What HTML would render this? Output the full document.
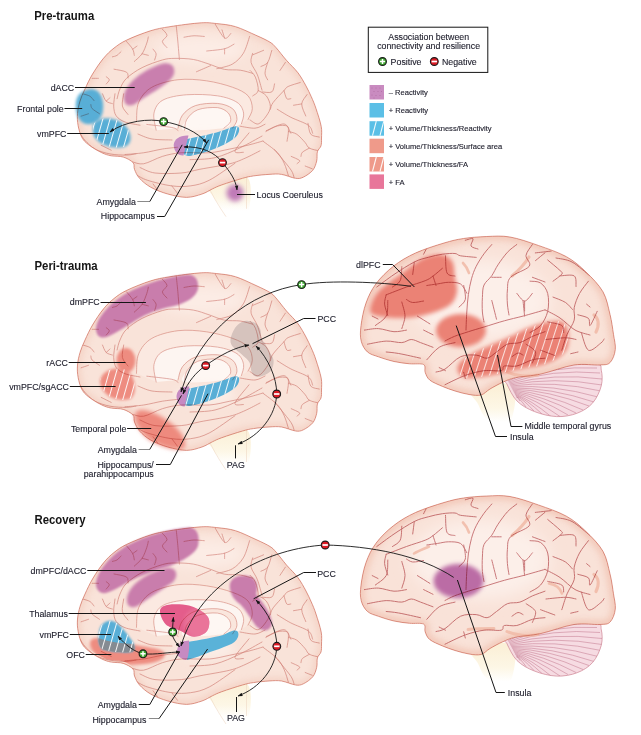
<!DOCTYPE html><html><head><meta charset="utf-8"><style>
html,body{margin:0;padding:0;background:#fff;width:641px;height:735px;overflow:hidden}
svg{display:block;font-family:"Liberation Sans",sans-serif}
</style></head><body>
<svg width="641" height="735" viewBox="0 0 641 735">
<defs>
<linearGradient id="bsg" x1="0" y1="432" x2="0" y2="464" gradientUnits="userSpaceOnUse">
<stop offset="0" stop-color="#fbf0d8"/><stop offset="0.6" stop-color="#fdf7e6"/><stop offset="1" stop-color="#ffffff"/></linearGradient>
<linearGradient id="bsg2" x1="0" y1="388" x2="0" y2="422" gradientUnits="userSpaceOnUse">
<stop offset="0" stop-color="#fbf0d8"/><stop offset="0.6" stop-color="#fdf7e6"/><stop offset="1" stop-color="#ffffff"/></linearGradient>

<filter id="bl3" x="-50%" y="-50%" width="200%" height="200%"><feGaussianBlur stdDeviation="0.3"/></filter>
<filter id="bl4" x="-50%" y="-50%" width="200%" height="200%"><feGaussianBlur stdDeviation="0.4"/></filter>
<filter id="bl5" x="-50%" y="-50%" width="200%" height="200%"><feGaussianBlur stdDeviation="0.5"/></filter>
<filter id="bl10" x="-50%" y="-50%" width="200%" height="200%"><feGaussianBlur stdDeviation="1.0"/></filter>
<filter id="bl12" x="-50%" y="-50%" width="200%" height="200%"><feGaussianBlur stdDeviation="1.2"/></filter>
<filter id="bl13" x="-50%" y="-50%" width="200%" height="200%"><feGaussianBlur stdDeviation="1.3"/></filter>
<filter id="bl15" x="-50%" y="-50%" width="200%" height="200%"><feGaussianBlur stdDeviation="1.5"/></filter>
<filter id="bl18" x="-50%" y="-50%" width="200%" height="200%"><feGaussianBlur stdDeviation="1.8"/></filter>
<filter id="bl20" x="-50%" y="-50%" width="200%" height="200%"><feGaussianBlur stdDeviation="2.0"/></filter>
<filter id="bl22" x="-50%" y="-50%" width="200%" height="200%"><feGaussianBlur stdDeviation="2.2"/></filter>
<filter id="bl25" x="-50%" y="-50%" width="200%" height="200%"><feGaussianBlur stdDeviation="2.5"/></filter>
<filter id="bl30" x="-50%" y="-50%" width="200%" height="200%"><feGaussianBlur stdDeviation="3.0"/></filter>
<filter id="bl40" x="-50%" y="-50%" width="200%" height="200%"><feGaussianBlur stdDeviation="4.0"/></filter>
<filter id="bl60" x="-50%" y="-50%" width="200%" height="200%"><feGaussianBlur stdDeviation="6.0"/></filter>
<filter id="bl80" x="-50%" y="-50%" width="200%" height="200%"><feGaussianBlur stdDeviation="8.0"/></filter>
<clipPath id="medclip"><path d="M80.0,352.5 C81.2,348.3 82.9,344.6 85.0,340.0 C87.1,335.4 89.4,330.2 92.5,325.0 C95.6,319.8 99.8,313.4 103.4,309.0 C107.0,304.6 110.1,301.6 114.0,298.5 C117.9,295.4 120.8,293.2 126.8,290.3 C132.8,287.4 143.0,283.3 150.2,281.0 C157.4,278.7 161.5,278.1 170.0,276.7 C178.5,275.3 193.4,273.3 201.2,272.8 C209.0,272.3 211.1,273.0 216.8,273.6 C222.5,274.2 229.0,274.7 235.5,276.7 C242.0,278.7 250.2,282.9 256.0,285.5 C261.8,288.1 266.7,290.4 270.0,292.5 C273.3,294.6 273.2,294.9 276.0,298.0 C278.8,301.1 282.8,306.7 286.5,311.0 C290.2,315.3 294.8,319.4 298.0,323.7 C301.2,328.0 303.8,332.9 306.0,337.0 C308.2,341.1 309.6,344.2 311.3,348.0 C313.0,351.8 314.4,355.0 316.0,360.0 C317.6,365.0 320.3,373.0 321.2,378.0 C322.1,383.0 321.5,386.7 321.5,390.0 C321.5,393.3 321.7,395.7 321.0,398.0 C320.3,400.3 318.1,401.4 317.4,404.0 C316.7,406.6 317.5,410.3 316.7,413.4 C315.9,416.5 315.0,420.1 312.8,422.8 C310.6,425.5 306.3,428.4 303.4,429.8 C300.5,431.2 299.1,431.5 295.5,431.0 C291.9,430.5 285.9,427.7 281.5,427.0 C277.1,426.3 273.7,426.7 269.0,427.0 C264.3,427.3 257.8,427.9 253.4,428.6 C249.0,429.3 247.8,429.5 242.5,431.0 C237.2,432.5 226.8,435.9 221.8,437.7 C216.8,439.5 215.7,440.2 212.4,441.8 C209.1,443.4 206.3,445.6 202.0,447.0 C197.7,448.4 192.3,450.4 186.6,450.4 C180.9,450.4 173.8,448.7 167.8,447.0 C161.8,445.3 155.3,442.7 150.6,440.0 C145.9,437.3 142.2,434.0 139.5,431.0 C136.8,428.0 135.6,424.7 134.5,422.0 C133.4,419.3 134.9,417.1 133.0,415.0 C131.1,412.9 126.8,410.5 123.2,409.4 C119.6,408.2 114.8,408.8 111.2,408.1 C107.6,407.4 105.1,406.6 101.8,405.0 C98.5,403.4 94.4,401.2 91.2,398.8 C88.0,396.4 84.7,394.2 82.5,390.6 C80.3,387.0 78.9,381.7 78.1,377.4 C77.3,373.1 77.2,369.1 77.5,365.0 C77.8,360.9 78.8,356.7 80.0,352.5 Z"/></clipPath>
<clipPath id="latclip"><path d="M444.0,243.0 C436.0,245.4 423.9,249.2 415.5,253.0 C407.1,256.8 400.3,260.9 393.7,266.0 C387.1,271.1 380.6,277.5 376.0,283.7 C371.4,289.9 368.5,296.0 366.0,303.0 C363.5,310.0 361.8,319.2 361.0,325.6 C360.2,332.0 360.1,336.8 361.2,341.2 C362.3,345.6 364.6,349.4 367.5,352.0 C370.4,354.6 374.0,355.2 378.4,356.8 C382.8,358.4 388.8,360.3 394.0,361.5 C399.2,362.7 404.7,363.3 409.6,363.8 C414.5,364.3 421.0,363.2 423.6,364.6 C426.2,366.0 424.1,369.8 425.2,372.4 C426.2,375.0 427.0,377.9 429.9,380.2 C432.8,382.5 438.2,384.6 442.4,386.4 C446.6,388.2 450.6,389.6 455.0,391.0 C459.4,392.4 464.7,393.8 469.0,394.5 C473.3,395.2 477.5,395.9 481.0,395.0 C484.5,394.1 486.4,391.1 490.0,389.0 C493.6,386.9 498.2,384.3 502.5,382.4 C506.8,380.5 509.2,379.1 515.6,377.7 C522.0,376.3 531.3,376.1 541.0,374.0 C550.7,371.9 564.2,366.5 574.0,365.0 C583.8,363.5 594.0,365.4 600.0,365.0 C606.0,364.6 607.7,365.0 610.2,362.4 C612.8,359.8 614.8,354.3 615.3,349.6 C615.8,344.9 614.4,340.2 613.5,334.3 C612.6,328.4 611.8,321.4 610.0,314.3 C608.2,307.2 607.0,298.9 603.0,291.8 C599.0,284.8 592.1,277.9 586.0,272.0 C579.9,266.1 574.4,261.1 566.4,256.7 C558.4,252.3 547.7,248.7 538.3,245.4 C528.9,242.1 518.6,238.5 510.0,237.0 C501.4,235.5 494.6,236.2 486.8,236.5 C479.0,236.8 470.5,237.4 463.4,238.5 C456.3,239.6 452.0,240.6 444.0,243.0 Z"/></clipPath>
<clipPath id="cerclip"><path d="M505.0,376.0 C496.1,379.0 504.9,379.8 506.9,384.0 C508.9,388.2 512.4,396.4 517.0,401.0 C521.6,405.6 527.7,408.9 534.3,411.5 C540.9,414.1 549.5,416.3 556.6,416.6 C563.8,416.9 571.2,415.5 577.2,413.2 C583.2,410.9 588.7,407.5 592.7,402.9 C596.7,398.3 599.9,391.1 601.3,385.7 C602.7,380.3 602.2,373.9 601.3,370.3 C600.4,366.7 602.9,364.7 596.0,364.0 C589.1,363.3 575.2,364.0 560.0,366.0 C544.8,368.0 513.9,373.0 505.0,376.0 Z"/></clipPath>
<pattern id="stripe" width="6.9" height="7" patternUnits="userSpaceOnUse" patternTransform="rotate(16)">
<rect x="0" width="1.0" height="7" fill="#fff" opacity="0.9"/></pattern>
<marker id="ah" viewBox="0 0 10 10" refX="9" refY="5" markerWidth="5.5" markerHeight="5.5" orient="auto-start-reverse">
<path d="M0,1.5 L10,5 L0,8.5 z" fill="#151515"/></marker>
<g id="medbase"><path d="M207.0,436.0 C201.2,439.0 210.0,444.3 212.0,448.0 C214.0,451.7 216.7,454.7 219.0,458.0 C221.3,461.3 221.3,466.3 226.0,468.0 C230.7,469.7 243.5,474.3 247.0,468.0 C250.5,461.7 253.7,435.3 247.0,430.0 C240.3,424.7 212.8,433.0 207.0,436.0 Z" fill="url(#bsg)"/>
<path d="M207,436 C212,448 218,458 226,470" fill="none" stroke="#efd9c4" stroke-width="0.6"/>
<path d="M246.5,430 L246.5,462" fill="none" stroke="#efd9c4" stroke-width="0.6"/>
<path d="M80.0,352.5 C81.2,348.3 82.9,344.6 85.0,340.0 C87.1,335.4 89.4,330.2 92.5,325.0 C95.6,319.8 99.8,313.4 103.4,309.0 C107.0,304.6 110.1,301.6 114.0,298.5 C117.9,295.4 120.8,293.2 126.8,290.3 C132.8,287.4 143.0,283.3 150.2,281.0 C157.4,278.7 161.5,278.1 170.0,276.7 C178.5,275.3 193.4,273.3 201.2,272.8 C209.0,272.3 211.1,273.0 216.8,273.6 C222.5,274.2 229.0,274.7 235.5,276.7 C242.0,278.7 250.2,282.9 256.0,285.5 C261.8,288.1 266.7,290.4 270.0,292.5 C273.3,294.6 273.2,294.9 276.0,298.0 C278.8,301.1 282.8,306.7 286.5,311.0 C290.2,315.3 294.8,319.4 298.0,323.7 C301.2,328.0 303.8,332.9 306.0,337.0 C308.2,341.1 309.6,344.2 311.3,348.0 C313.0,351.8 314.4,355.0 316.0,360.0 C317.6,365.0 320.3,373.0 321.2,378.0 C322.1,383.0 321.5,386.7 321.5,390.0 C321.5,393.3 321.7,395.7 321.0,398.0 C320.3,400.3 318.1,401.4 317.4,404.0 C316.7,406.6 317.5,410.3 316.7,413.4 C315.9,416.5 315.0,420.1 312.8,422.8 C310.6,425.5 306.3,428.4 303.4,429.8 C300.5,431.2 299.1,431.5 295.5,431.0 C291.9,430.5 285.9,427.7 281.5,427.0 C277.1,426.3 273.7,426.7 269.0,427.0 C264.3,427.3 257.8,427.9 253.4,428.6 C249.0,429.3 247.8,429.5 242.5,431.0 C237.2,432.5 226.8,435.9 221.8,437.7 C216.8,439.5 215.7,440.2 212.4,441.8 C209.1,443.4 206.3,445.6 202.0,447.0 C197.7,448.4 192.3,450.4 186.6,450.4 C180.9,450.4 173.8,448.7 167.8,447.0 C161.8,445.3 155.3,442.7 150.6,440.0 C145.9,437.3 142.2,434.0 139.5,431.0 C136.8,428.0 135.6,424.7 134.5,422.0 C133.4,419.3 134.9,417.1 133.0,415.0 C131.1,412.9 126.8,410.5 123.2,409.4 C119.6,408.2 114.8,408.8 111.2,408.1 C107.6,407.4 105.1,406.6 101.8,405.0 C98.5,403.4 94.4,401.2 91.2,398.8 C88.0,396.4 84.7,394.2 82.5,390.6 C80.3,387.0 78.9,381.7 78.1,377.4 C77.3,373.1 77.2,369.1 77.5,365.0 C77.8,360.9 78.8,356.7 80.0,352.5 Z" fill="#f9e3d9"/>
<g clip-path="url(#medclip)"><path d="M80.0,352.5 C81.2,348.3 82.9,344.6 85.0,340.0 C87.1,335.4 89.4,330.2 92.5,325.0 C95.6,319.8 99.8,313.4 103.4,309.0 C107.0,304.6 110.1,301.6 114.0,298.5 C117.9,295.4 120.8,293.2 126.8,290.3 C132.8,287.4 143.0,283.3 150.2,281.0 C157.4,278.7 161.5,278.1 170.0,276.7 C178.5,275.3 193.4,273.3 201.2,272.8 C209.0,272.3 211.1,273.0 216.8,273.6 C222.5,274.2 229.0,274.7 235.5,276.7 C242.0,278.7 250.2,282.9 256.0,285.5 C261.8,288.1 266.7,290.4 270.0,292.5 C273.3,294.6 273.2,294.9 276.0,298.0 C278.8,301.1 282.8,306.7 286.5,311.0 C290.2,315.3 294.8,319.4 298.0,323.7 C301.2,328.0 303.8,332.9 306.0,337.0 C308.2,341.1 309.6,344.2 311.3,348.0 C313.0,351.8 314.4,355.0 316.0,360.0 C317.6,365.0 320.3,373.0 321.2,378.0 C322.1,383.0 321.5,386.7 321.5,390.0 C321.5,393.3 321.7,395.7 321.0,398.0 C320.3,400.3 318.1,401.4 317.4,404.0 C316.7,406.6 317.5,410.3 316.7,413.4 C315.9,416.5 315.0,420.1 312.8,422.8 C310.6,425.5 306.3,428.4 303.4,429.8 C300.5,431.2 299.1,431.5 295.5,431.0 C291.9,430.5 285.9,427.7 281.5,427.0 C277.1,426.3 273.7,426.7 269.0,427.0 C264.3,427.3 257.8,427.9 253.4,428.6 C249.0,429.3 247.8,429.5 242.5,431.0 C237.2,432.5 226.8,435.9 221.8,437.7 C216.8,439.5 215.7,440.2 212.4,441.8 C209.1,443.4 206.3,445.6 202.0,447.0 C197.7,448.4 192.3,450.4 186.6,450.4 C180.9,450.4 173.8,448.7 167.8,447.0 C161.8,445.3 155.3,442.7 150.6,440.0 C145.9,437.3 142.2,434.0 139.5,431.0 C136.8,428.0 135.6,424.7 134.5,422.0 C133.4,419.3 134.9,417.1 133.0,415.0 C131.1,412.9 126.8,410.5 123.2,409.4 C119.6,408.2 114.8,408.8 111.2,408.1 C107.6,407.4 105.1,406.6 101.8,405.0 C98.5,403.4 94.4,401.2 91.2,398.8 C88.0,396.4 84.7,394.2 82.5,390.6 C80.3,387.0 78.9,381.7 78.1,377.4 C77.3,373.1 77.2,369.1 77.5,365.0 C77.8,360.9 78.8,356.7 80.0,352.5 Z" fill="none" stroke="#f1c5b5" stroke-width="6" filter="url(#bl30)" opacity="0.6"/>
<ellipse cx="200" cy="300" rx="45" ry="14" fill="#fcece5" filter="url(#bl60)"/>
<path d="M136.5,373.3 C136.9,370.0 136.1,359.5 138.7,353.7 C141.2,347.9 145.2,342.2 151.8,338.4 C158.4,334.6 168.9,331.8 178.0,330.7 C187.1,329.6 197.3,330.5 206.4,331.8 C215.5,333.1 225.7,335.9 232.6,338.4 C239.5,340.9 244.7,343.4 248.0,347.0 C251.3,350.6 252.3,356.2 252.3,360.2 C252.3,364.2 248.7,369.3 248.0,371.1 L241.4,375.5 C241.8,373.7 244.3,368.2 243.6,364.6 C242.9,361.0 241.4,356.6 237.0,353.7 C232.6,350.8 225.8,348.4 217.4,347.1 C209.0,345.8 195.9,345.3 186.8,346.0 C177.7,346.7 168.3,348.4 162.8,351.5 C157.3,354.6 155.1,359.5 154.0,364.6 C152.9,369.7 155.8,379.1 156.2,382.0 Z" fill="#fbe9e1"/>
<path d="M156.2,382.0 C155.8,379.1 152.9,369.7 154.0,364.6 C155.1,359.5 157.3,354.6 162.8,351.5 C168.3,348.4 177.7,346.7 186.8,346.0 C195.9,345.3 209.0,345.8 217.4,347.1 C225.8,348.4 232.6,350.8 237.0,353.7 C241.4,356.6 242.9,361.0 243.6,364.6 C244.3,368.2 241.8,373.7 241.4,375.5 L241.4,375.5 L232.6,379.9 C233.3,378.4 237.0,374.4 237.0,371.1 C237.0,367.8 235.9,362.9 232.6,360.2 C229.3,357.5 223.6,355.3 217.4,354.8 C211.2,354.3 201.3,355.0 195.5,357.0 C189.7,359.0 185.3,363.0 182.4,366.8 C179.5,370.6 178.7,377.8 178.0,380.0 Z" fill="#fdf5f1"/>
<path d="M178.0,380.0 C178.7,377.8 179.5,370.6 182.4,366.8 C185.3,363.0 189.7,359.0 195.5,357.0 C201.3,355.0 211.2,354.3 217.4,354.8 C223.6,355.3 229.3,357.5 232.6,360.2 C235.9,362.9 237.0,367.8 237.0,371.1 C237.0,374.4 233.3,378.4 232.6,379.9 L223.9,379.9 C225.0,378.8 229.8,375.9 230.5,373.3 C231.2,370.8 230.5,367.0 228.3,364.6 C226.1,362.2 222.5,359.7 217.4,359.1 C212.3,358.6 202.8,359.3 197.7,361.3 C192.6,363.3 189.0,367.7 186.8,371.1 C184.6,374.6 185.0,380.2 184.6,382.0 Z" fill="#fae6dd"/>
<path d="M184.6,382.0 C178.4,380.5 184.6,374.6 186.8,371.1 C189.0,367.7 192.6,363.3 197.7,361.3 C202.8,359.3 212.3,358.6 217.4,359.1 C222.5,359.7 226.1,362.2 228.3,364.6 C230.5,367.0 231.2,370.8 230.5,373.3 C229.8,375.9 231.6,378.4 223.9,379.9 C216.2,381.3 190.8,383.5 184.6,382.0 Z" fill="#fef7f3"/>
<ellipse cx="205" cy="395" rx="30" ry="10" fill="#fbede6" filter="url(#bl40)"/>
</g>
</g>
<g id="medlines">
<g clip-path="url(#medclip)">
<path d="M126.5,291.8 C127.5,293.1 131.4,297.2 132.7,299.6 C134.0,302.0 134.0,304.8 134.3,305.9" fill="none" stroke="#d8948f" stroke-width="0.7" stroke-linecap="round"/>
<path d="M132.7,299.6 C133.4,299.1 136.3,297.0 137.0,296.5" fill="none" stroke="#d8948f" stroke-width="0.7" stroke-linecap="round"/>
<path d="M148.3,287.2 C148.1,288.2 147.8,290.5 146.8,293.4 C145.8,296.2 144.2,301.2 142.1,304.3 C140.0,307.4 135.6,310.8 134.3,312.1" fill="none" stroke="#d8948f" stroke-width="0.7" stroke-linecap="round"/>
<path d="M142.1,304.3 C143.1,304.6 147.3,305.6 148.3,305.9" fill="none" stroke="#d8948f" stroke-width="0.7" stroke-linecap="round"/>
<path d="M162.4,279.4 C163.2,280.4 167.0,283.5 167.0,285.6 C167.0,287.7 162.4,289.7 162.4,291.8 C162.4,293.9 166.2,297.0 167.0,298.0" fill="none" stroke="#d8948f" stroke-width="0.7" stroke-linecap="round"/>
<path d="M153.0,299.6 C153.5,300.4 155.8,302.5 156.1,304.3 C156.4,306.1 154.8,309.6 154.6,310.6" fill="none" stroke="#d8948f" stroke-width="0.7" stroke-linecap="round"/>
<path d="M112.4,307.4 C113.2,307.1 115.7,306.8 117.1,305.9 C118.5,305.0 120.3,302.6 121.0,302.0" fill="none" stroke="#d8948f" stroke-width="0.7" stroke-linecap="round"/>
<path d="M114.0,320.0 C116.1,320.5 124.2,321.5 126.5,323.0 C128.8,324.5 127.8,328.0 128.0,329.0" fill="none" stroke="#d8948f" stroke-width="0.7" stroke-linecap="round"/>
<path d="M106.2,327.7 C106.7,328.2 109.3,329.6 109.3,330.8 C109.3,332.0 106.7,334.3 106.2,335.0" fill="none" stroke="#d8948f" stroke-width="0.7" stroke-linecap="round"/>
<path d="M92.2,329.3 C93.2,329.3 97.4,329.3 98.4,329.3" fill="none" stroke="#d8948f" stroke-width="0.7" stroke-linecap="round"/>
<path d="M103.1,309.0 C101.5,311.1 96.6,317.1 93.7,321.5 C90.8,325.9 87.2,333.2 85.9,335.5" fill="none" stroke="#d8948f" stroke-width="0.7" stroke-linecap="round"/>
<path d="M117.1,350.0 C117.6,348.3 118.4,343.4 120.0,340.0 C121.6,336.6 122.8,332.9 126.5,329.3 C130.2,325.7 136.1,321.5 142.1,318.4 C148.1,315.3 156.9,312.2 162.4,310.6 C167.9,309.0 169.8,309.1 175.0,309.0 C180.2,308.9 187.7,309.1 193.4,310.1 C199.1,311.1 203.8,313.1 209.0,314.8 C214.2,316.5 219.4,319.2 224.6,320.2 C229.8,321.2 235.5,320.3 240.2,321.0 C244.9,321.7 250.6,323.7 252.7,324.2" fill="none" stroke="#d8948f" stroke-width="0.7" stroke-linecap="round"/>
<path d="M115.0,345.0 C114.8,347.1 113.5,353.8 113.7,357.5 C113.9,361.2 114.3,364.8 116.2,367.5 C118.1,370.2 121.0,372.1 125.0,373.7 C129.0,375.3 137.5,376.4 140.0,377.0" fill="none" stroke="#d8948f" stroke-width="0.7" stroke-linecap="round"/>
<path d="M123.7,345.0 C123.5,347.1 121.7,354.0 122.4,357.5 C123.1,361.0 127.1,364.6 128.0,366.0" fill="none" stroke="#d8948f" stroke-width="0.7" stroke-linecap="round"/>
<path d="M102.5,345.0 C103.1,346.2 104.5,350.8 106.2,352.5 C107.9,354.2 111.4,354.6 112.4,355.0" fill="none" stroke="#d8948f" stroke-width="0.7" stroke-linecap="round"/>
<path d="M106.2,352.5 C106.8,351.9 109.4,349.6 110.0,349.0" fill="none" stroke="#d8948f" stroke-width="0.7" stroke-linecap="round"/>
<path d="M82.5,345.0 C83.8,345.4 88.1,346.3 90.0,347.5 C91.9,348.7 93.3,351.2 94.0,352.0" fill="none" stroke="#d8948f" stroke-width="0.7" stroke-linecap="round"/>
<path d="M90.9,356.0 C91.1,356.7 90.7,358.4 92.1,360.0 C93.5,361.6 98.3,364.4 99.5,365.3" fill="none" stroke="#d8948f" stroke-width="0.7" stroke-linecap="round"/>
<path d="M81.1,367.8 C82.3,367.4 87.3,365.7 88.5,365.3" fill="none" stroke="#d8948f" stroke-width="0.7" stroke-linecap="round"/>
<path d="M176.2,275.8 C176.5,278.4 177.3,285.7 177.8,291.4 C178.3,297.1 179.1,307.0 179.4,310.1" fill="none" stroke="#d8948f" stroke-width="0.7" stroke-linecap="round"/>
<path d="M215.2,274.2 C216.8,276.6 222.0,286.7 224.6,288.3 C227.2,289.9 229.8,284.4 230.8,283.6" fill="none" stroke="#d8948f" stroke-width="0.7" stroke-linecap="round"/>
<path d="M224.6,288.3 C224.2,286.9 222.4,281.4 222.0,280.0" fill="none" stroke="#d8948f" stroke-width="0.7" stroke-linecap="round"/>
<path d="M184.0,287.5 C185.7,287.2 190.6,286.1 194.0,286.0 C197.4,285.9 202.6,286.6 204.3,286.7" fill="none" stroke="#d8948f" stroke-width="0.7" stroke-linecap="round"/>
<path d="M206.7,301.5 C209.7,301.1 220.0,300.4 224.6,299.2 C229.2,298.0 232.4,295.3 234.0,294.5" fill="none" stroke="#d8948f" stroke-width="0.7" stroke-linecap="round"/>
<path d="M224.6,299.2 C224.6,300.1 224.6,303.6 224.6,304.5" fill="none" stroke="#d8948f" stroke-width="0.7" stroke-linecap="round"/>
<path d="M196.5,322.6 C198.8,321.6 208.2,317.4 210.6,316.4" fill="none" stroke="#d8948f" stroke-width="0.7" stroke-linecap="round"/>
<path d="M249.6,286.7 C248.6,289.6 246.2,299.2 243.3,303.9 C240.4,308.6 236.8,312.2 232.4,314.8 C228.0,317.4 219.4,318.7 216.8,319.5" fill="none" stroke="#d8948f" stroke-width="0.7" stroke-linecap="round"/>
<path d="M252.7,303.9 C252.4,305.4 250.3,309.6 251.1,313.2 C251.9,316.8 255.6,321.0 257.4,325.7 C259.2,330.4 261.2,338.7 262.0,341.3" fill="none" stroke="#d8948f" stroke-width="0.7" stroke-linecap="round"/>
<path d="M252.7,305.4 C254.5,304.6 261.8,301.6 263.6,300.8" fill="none" stroke="#d8948f" stroke-width="0.7" stroke-linecap="round"/>
<path d="M250.0,321.3 C250.9,322.4 254.0,324.7 255.4,328.1 C256.8,331.5 258.6,338.5 258.2,341.7 C257.8,344.9 253.6,346.2 252.7,347.1" fill="none" stroke="#d8948f" stroke-width="0.7" stroke-linecap="round"/>
<path d="M258.2,341.7 C259.6,342.6 264.3,344.4 266.3,347.1 C268.3,349.8 270.4,354.6 270.4,358.0 C270.4,361.4 268.3,364.7 266.3,367.6 C264.3,370.6 260.9,375.0 258.2,375.7 C255.5,376.4 251.4,372.3 250.0,371.6" fill="none" stroke="#d8948f" stroke-width="0.7" stroke-linecap="round"/>
<path d="M271.8,300.9 C271.1,302.9 269.5,310.4 267.7,313.1 C265.9,315.8 262.0,316.5 260.9,317.2" fill="none" stroke="#d8948f" stroke-width="0.7" stroke-linecap="round"/>
<path d="M267.7,313.1 C267.2,314.9 265.0,321.1 265.0,324.0 C265.0,326.9 267.2,329.7 267.7,330.8" fill="none" stroke="#d8948f" stroke-width="0.7" stroke-linecap="round"/>
<path d="M285.4,313.1 C284.5,314.5 280.9,319.9 280.0,321.3" fill="none" stroke="#d8948f" stroke-width="0.7" stroke-linecap="round"/>
<path d="M300.3,333.5 C298.3,334.2 290.8,336.2 288.1,337.6 C285.4,339.0 286.5,339.0 284.0,341.7 C281.5,344.4 275.4,350.7 273.1,353.9 C270.8,357.1 270.8,359.6 270.4,360.7" fill="none" stroke="#d8948f" stroke-width="0.7" stroke-linecap="round"/>
<path d="M284.0,341.7 C284.4,343.1 285.6,348.5 286.7,349.9 C287.8,351.3 290.1,349.9 290.8,349.9" fill="none" stroke="#d8948f" stroke-width="0.7" stroke-linecap="round"/>
<path d="M262.2,343.1 C263.8,343.1 269.8,344.5 271.8,343.1 C273.9,341.7 274.1,336.3 274.5,334.9" fill="none" stroke="#d8948f" stroke-width="0.7" stroke-linecap="round"/>
<path d="M307.1,345.8 C306.2,347.4 301.9,351.7 301.7,355.3 C301.5,358.9 305.1,365.6 305.8,367.6" fill="none" stroke="#d8948f" stroke-width="0.7" stroke-linecap="round"/>
<path d="M301.7,355.3 C300.3,355.5 294.9,356.5 293.5,356.7" fill="none" stroke="#d8948f" stroke-width="0.7" stroke-linecap="round"/>
<path d="M277.2,360.7 C279.5,362.1 285.6,366.2 290.8,368.9 C296.0,371.6 304.9,374.4 308.5,377.1 C312.1,379.8 311.9,383.9 312.6,385.2" fill="none" stroke="#d8948f" stroke-width="0.7" stroke-linecap="round"/>
<path d="M266.3,382.5 C269.2,381.4 279.9,375.2 284.0,375.7 C288.1,376.1 289.7,383.6 290.8,385.2" fill="none" stroke="#d8948f" stroke-width="0.7" stroke-linecap="round"/>
<path d="M263.1,393.3 C265.4,395.2 273.6,400.8 277.1,404.5 C280.6,408.2 282.3,411.7 284.2,415.7 C286.1,419.7 287.7,426.3 288.4,428.4" fill="none" stroke="#d8948f" stroke-width="0.7" stroke-linecap="round"/>
<path d="M274.3,401.7 C275.5,403.1 278.5,406.6 281.3,410.1 C284.1,413.6 289.1,419.5 291.2,422.8 C293.3,426.1 293.5,428.6 294.0,429.8" fill="none" stroke="#d8948f" stroke-width="0.7" stroke-linecap="round"/>
<path d="M265.9,383.4 C267.8,382.5 273.6,378.7 277.1,377.8 C280.6,376.9 285.1,376.9 287.0,377.8 C288.9,378.7 288.4,380.8 288.4,383.4 C288.4,386.0 287.2,391.6 287.0,393.3" fill="none" stroke="#d8948f" stroke-width="0.7" stroke-linecap="round"/>
<path d="M288.4,383.4 C289.8,383.9 294.0,384.3 296.8,386.2 C299.6,388.1 303.1,392.3 305.2,394.7 C307.3,397.1 307.0,398.9 309.4,400.3 C311.8,401.7 317.6,402.6 319.3,403.1" fill="none" stroke="#d8948f" stroke-width="0.7" stroke-linecap="round"/>
<path d="M309.4,400.3 C308.2,401.0 303.8,403.1 302.4,404.5 C301.0,405.9 301.2,408.0 301.0,408.7" fill="none" stroke="#d8948f" stroke-width="0.7" stroke-linecap="round"/>
<path d="M291.2,408.7 C292.6,409.4 298.6,411.7 299.6,412.9 C300.6,414.1 297.4,415.5 297.0,416.0" fill="none" stroke="#d8948f" stroke-width="0.7" stroke-linecap="round"/>
<path d="M305.2,418.5 C306.4,419.0 311.0,420.8 312.2,421.3" fill="none" stroke="#d8948f" stroke-width="0.7" stroke-linecap="round"/>
<path d="M308.0,375.0 C308.5,376.9 308.9,383.9 310.8,386.2 C312.7,388.5 317.9,388.5 319.3,389.0" fill="none" stroke="#d8948f" stroke-width="0.7" stroke-linecap="round"/>
<path d="M125.0,406.8 C128.1,406.5 137.5,405.9 143.7,405.0 C149.9,404.1 156.8,402.1 162.4,401.2 C168.0,400.3 174.9,399.7 177.4,399.4" fill="none" stroke="#d8948f" stroke-width="0.7" stroke-linecap="round"/>
<path d="M132.5,414.3 C134.4,414.6 138.7,417.1 143.7,416.2 C148.7,415.3 156.2,410.6 162.4,408.7 C168.7,406.8 173.4,405.6 181.2,405.0 C189.0,404.4 201.1,405.6 209.2,405.0 C217.3,404.4 223.2,402.5 229.8,401.2 C236.4,399.9 243.5,398.4 249.0,397.0 C254.5,395.6 260.7,393.7 263.0,393.0" fill="none" stroke="#d8948f" stroke-width="0.7" stroke-linecap="round"/>
<path d="M140.0,420.0 C142.5,420.9 148.1,424.7 155.0,425.6 C161.9,426.5 173.7,426.2 181.2,425.6 C188.7,425.0 191.8,423.4 199.9,421.8 C208.0,420.2 222.3,418.1 229.8,416.2 C237.3,414.3 240.0,412.8 245.0,410.6 C250.0,408.4 257.5,404.3 260.0,403.0" fill="none" stroke="#d8948f" stroke-width="0.7" stroke-linecap="round"/>
<path d="M136.2,427.4 C138.1,428.3 141.6,431.1 147.5,433.0 C153.4,434.9 164.6,437.8 171.8,438.7 C179.0,439.6 184.3,439.6 190.5,438.7 C196.7,437.8 201.8,436.8 209.2,433.0 C216.6,429.2 230.7,418.6 235.0,415.7" fill="none" stroke="#d8948f" stroke-width="0.7" stroke-linecap="round"/>
<path d="M153.1,436.8 C154.0,438.1 157.8,443.1 158.7,444.3" fill="none" stroke="#d8948f" stroke-width="0.7" stroke-linecap="round"/>
<path d="M171.8,438.7 C172.7,439.9 176.5,444.9 177.4,446.2" fill="none" stroke="#d8948f" stroke-width="0.7" stroke-linecap="round"/>
<path d="M243.4,404.5 C242.0,404.3 234.1,406.4 235.0,403.1 C235.9,399.8 246.7,387.9 249.0,384.8" fill="none" stroke="#d8948f" stroke-width="0.7" stroke-linecap="round"/>
<path d="M80.0,385.0 C80.8,386.2 82.5,389.7 85.0,392.4 C87.5,395.1 90.8,398.9 95.0,401.2 C99.2,403.5 104.8,405.2 110.0,406.2 C115.2,407.2 121.9,407.4 126.2,407.4 C130.5,407.4 134.4,406.2 136.0,406.0" fill="none" stroke="#d8948f" stroke-width="0.7" stroke-linecap="round"/>
<path d="M101.2,397.4 C102.9,398.2 109.5,401.6 111.2,402.4" fill="none" stroke="#d8948f" stroke-width="0.7" stroke-linecap="round"/>
<path d="M146.8,376.2 C151.0,376.7 166.6,378.3 171.8,379.3 C177.0,380.3 177.0,381.9 178.0,382.4" fill="none" stroke="#d8948f" stroke-width="0.7" stroke-linecap="round"/>
<path d="M138.0,386.0 C140.3,386.8 146.3,390.0 152.0,391.0 C157.7,392.0 168.7,391.8 172.0,392.0" fill="none" stroke="#d8948f" stroke-width="0.7" stroke-linecap="round"/>
<path d="M240.0,378.0 C242.5,378.3 250.8,380.3 255.0,380.0 C259.2,379.7 263.3,376.7 265.0,376.0" fill="none" stroke="#d8948f" stroke-width="0.7" stroke-linecap="round"/>
<path d="M190.0,412.0 C194.2,411.7 206.7,412.0 215.0,410.0 C223.3,408.0 232.2,403.7 240.0,400.0 C247.8,396.3 258.3,390.0 262.0,388.0" fill="none" stroke="#d8948f" stroke-width="0.7" stroke-linecap="round"/>
<path d="M136.5,373.3 C136.9,370.0 136.1,359.5 138.7,353.7 C141.2,347.9 145.2,342.2 151.8,338.4 C158.4,334.6 168.9,331.8 178.0,330.7 C187.1,329.6 197.3,330.5 206.4,331.8 C215.5,333.1 225.7,335.9 232.6,338.4 C239.5,340.9 244.7,343.4 248.0,347.0 C251.3,350.6 252.3,356.2 252.3,360.2 C252.3,364.2 248.7,369.3 248.0,371.1" fill="none" stroke="#dc9d97" stroke-width="0.7" stroke-linecap="round"/>
<path d="M156.2,382.0 C155.8,379.1 152.9,369.7 154.0,364.6 C155.1,359.5 157.3,354.6 162.8,351.5 C168.3,348.4 177.7,346.7 186.8,346.0 C195.9,345.3 209.0,345.8 217.4,347.1 C225.8,348.4 232.6,350.8 237.0,353.7 C241.4,356.6 242.9,361.0 243.6,364.6 C244.3,368.2 241.8,373.7 241.4,375.5" fill="none" stroke="#dc9d97" stroke-width="0.7" stroke-linecap="round"/>
<path d="M178.0,380.0 C178.7,377.8 179.5,370.6 182.4,366.8 C185.3,363.0 189.7,359.0 195.5,357.0 C201.3,355.0 211.2,354.3 217.4,354.8 C223.6,355.3 229.3,357.5 232.6,360.2 C235.9,362.9 237.0,367.8 237.0,371.1 C237.0,374.4 233.3,378.4 232.6,379.9" fill="none" stroke="#dc9d97" stroke-width="0.7" stroke-linecap="round"/>
<path d="M184.6,382.0 C185.0,380.2 184.6,374.6 186.8,371.1 C189.0,367.7 192.6,363.3 197.7,361.3 C202.8,359.3 212.3,358.6 217.4,359.1 C222.5,359.7 226.1,362.2 228.3,364.6 C230.5,367.0 231.2,370.8 230.5,373.3 C229.8,375.9 225.0,378.8 223.9,379.9" fill="none" stroke="#dc9d97" stroke-width="0.7" stroke-linecap="round"/>
</g>
<path d="M80.0,352.5 C81.2,348.3 82.9,344.6 85.0,340.0 C87.1,335.4 89.4,330.2 92.5,325.0 C95.6,319.8 99.8,313.4 103.4,309.0 C107.0,304.6 110.1,301.6 114.0,298.5 C117.9,295.4 120.8,293.2 126.8,290.3 C132.8,287.4 143.0,283.3 150.2,281.0 C157.4,278.7 161.5,278.1 170.0,276.7 C178.5,275.3 193.4,273.3 201.2,272.8 C209.0,272.3 211.1,273.0 216.8,273.6 C222.5,274.2 229.0,274.7 235.5,276.7 C242.0,278.7 250.2,282.9 256.0,285.5 C261.8,288.1 266.7,290.4 270.0,292.5 C273.3,294.6 273.2,294.9 276.0,298.0 C278.8,301.1 282.8,306.7 286.5,311.0 C290.2,315.3 294.8,319.4 298.0,323.7 C301.2,328.0 303.8,332.9 306.0,337.0 C308.2,341.1 309.6,344.2 311.3,348.0 C313.0,351.8 314.4,355.0 316.0,360.0 C317.6,365.0 320.3,373.0 321.2,378.0 C322.1,383.0 321.5,386.7 321.5,390.0 C321.5,393.3 321.7,395.7 321.0,398.0 C320.3,400.3 318.1,401.4 317.4,404.0 C316.7,406.6 317.5,410.3 316.7,413.4 C315.9,416.5 315.0,420.1 312.8,422.8 C310.6,425.5 306.3,428.4 303.4,429.8 C300.5,431.2 299.1,431.5 295.5,431.0 C291.9,430.5 285.9,427.7 281.5,427.0 C277.1,426.3 273.7,426.7 269.0,427.0 C264.3,427.3 257.8,427.9 253.4,428.6 C249.0,429.3 247.8,429.5 242.5,431.0 C237.2,432.5 226.8,435.9 221.8,437.7 C216.8,439.5 215.7,440.2 212.4,441.8 C209.1,443.4 206.3,445.6 202.0,447.0 C197.7,448.4 192.3,450.4 186.6,450.4 C180.9,450.4 173.8,448.7 167.8,447.0 C161.8,445.3 155.3,442.7 150.6,440.0 C145.9,437.3 142.2,434.0 139.5,431.0 C136.8,428.0 135.6,424.7 134.5,422.0 C133.4,419.3 134.9,417.1 133.0,415.0 C131.1,412.9 126.8,410.5 123.2,409.4 C119.6,408.2 114.8,408.8 111.2,408.1 C107.6,407.4 105.1,406.6 101.8,405.0 C98.5,403.4 94.4,401.2 91.2,398.8 C88.0,396.4 84.7,394.2 82.5,390.6 C80.3,387.0 78.9,381.7 78.1,377.4 C77.3,373.1 77.2,369.1 77.5,365.0 C77.8,360.9 78.8,356.7 80.0,352.5 Z" fill="none" stroke="#dc8f82" stroke-width="0.85"/>
</g>
<g id="latbase"><path d="M472.0,390.0 C466.3,393.2 475.7,399.3 478.0,404.0 C480.3,408.7 482.3,415.0 486.0,418.0 C489.7,421.0 495.7,422.0 500.0,422.0 C504.3,422.0 510.0,424.2 512.0,418.0 C514.0,411.8 518.7,389.7 512.0,385.0 C505.3,380.3 477.7,386.8 472.0,390.0 Z" fill="url(#bsg2)"/>
<path d="M505.0,376.0 C496.1,379.0 504.9,379.8 506.9,384.0 C508.9,388.2 512.4,396.4 517.0,401.0 C521.6,405.6 527.7,408.9 534.3,411.5 C540.9,414.1 549.5,416.3 556.6,416.6 C563.8,416.9 571.2,415.5 577.2,413.2 C583.2,410.9 588.7,407.5 592.7,402.9 C596.7,398.3 599.9,391.1 601.3,385.7 C602.7,380.3 602.2,373.9 601.3,370.3 C600.4,366.7 602.9,364.7 596.0,364.0 C589.1,363.3 575.2,364.0 560.0,366.0 C544.8,368.0 513.9,373.0 505.0,376.0 Z" fill="#f6dbe2" stroke="#d08a98" stroke-width="0.75"/>
<g clip-path="url(#cerclip)">
<path d="M508.0,381.0 Q547.0,362.5 590.0,364.0" fill="none" stroke="#c98598" stroke-width="0.6"/>
<path d="M508.5,382.0 Q550.8,365.4 597.0,368.0" fill="none" stroke="#c98598" stroke-width="0.6"/>
<path d="M509.1,383.0 Q552.5,368.7 600.0,373.0" fill="none" stroke="#c98598" stroke-width="0.6"/>
<path d="M509.6,384.0 Q553.8,372.6 602.0,379.0" fill="none" stroke="#c98598" stroke-width="0.6"/>
<path d="M510.1,385.0 Q554.1,376.4 602.0,385.0" fill="none" stroke="#c98598" stroke-width="0.6"/>
<path d="M510.6,386.0 Q553.8,380.3 601.0,391.0" fill="none" stroke="#c98598" stroke-width="0.6"/>
<path d="M511.2,387.0 Q552.6,384.1 598.0,397.0" fill="none" stroke="#c98598" stroke-width="0.6"/>
<path d="M511.7,388.0 Q550.9,387.5 594.0,402.0" fill="none" stroke="#c98598" stroke-width="0.6"/>
<path d="M512.2,389.0 Q548.6,390.3 589.0,406.0" fill="none" stroke="#c98598" stroke-width="0.6"/>
<path d="M512.8,390.0 Q545.9,393.2 583.0,410.0" fill="none" stroke="#c98598" stroke-width="0.6"/>
<path d="M513.3,391.0 Q542.6,395.5 576.0,413.0" fill="none" stroke="#c98598" stroke-width="0.6"/>
<path d="M513.8,392.0 Q538.9,397.4 568.0,415.0" fill="none" stroke="#c98598" stroke-width="0.6"/>
<path d="M514.4,393.0 Q535.2,399.0 560.0,416.5" fill="none" stroke="#c98598" stroke-width="0.6"/>
<path d="M514.9,394.0 Q530.9,399.8 551.0,416.5" fill="none" stroke="#c98598" stroke-width="0.6"/>
<path d="M515.4,395.0 Q526.7,399.4 542.0,414.0" fill="none" stroke="#c98598" stroke-width="0.6"/>
<path d="M515.9,396.0 Q523.0,398.8 534.0,411.0" fill="none" stroke="#c98598" stroke-width="0.6"/>
<path d="M516.5,397.0 Q519.2,397.6 526.0,407.0" fill="none" stroke="#c98598" stroke-width="0.6"/>
<path d="M517.0,398.0 Q516.5,395.5 520.0,401.0" fill="none" stroke="#c98598" stroke-width="0.6"/>
</g>
<path d="M444.0,243.0 C436.0,245.4 423.9,249.2 415.5,253.0 C407.1,256.8 400.3,260.9 393.7,266.0 C387.1,271.1 380.6,277.5 376.0,283.7 C371.4,289.9 368.5,296.0 366.0,303.0 C363.5,310.0 361.8,319.2 361.0,325.6 C360.2,332.0 360.1,336.8 361.2,341.2 C362.3,345.6 364.6,349.4 367.5,352.0 C370.4,354.6 374.0,355.2 378.4,356.8 C382.8,358.4 388.8,360.3 394.0,361.5 C399.2,362.7 404.7,363.3 409.6,363.8 C414.5,364.3 421.0,363.2 423.6,364.6 C426.2,366.0 424.1,369.8 425.2,372.4 C426.2,375.0 427.0,377.9 429.9,380.2 C432.8,382.5 438.2,384.6 442.4,386.4 C446.6,388.2 450.6,389.6 455.0,391.0 C459.4,392.4 464.7,393.8 469.0,394.5 C473.3,395.2 477.5,395.9 481.0,395.0 C484.5,394.1 486.4,391.1 490.0,389.0 C493.6,386.9 498.2,384.3 502.5,382.4 C506.8,380.5 509.2,379.1 515.6,377.7 C522.0,376.3 531.3,376.1 541.0,374.0 C550.7,371.9 564.2,366.5 574.0,365.0 C583.8,363.5 594.0,365.4 600.0,365.0 C606.0,364.6 607.7,365.0 610.2,362.4 C612.8,359.8 614.8,354.3 615.3,349.6 C615.8,344.9 614.4,340.2 613.5,334.3 C612.6,328.4 611.8,321.4 610.0,314.3 C608.2,307.2 607.0,298.9 603.0,291.8 C599.0,284.8 592.1,277.9 586.0,272.0 C579.9,266.1 574.4,261.1 566.4,256.7 C558.4,252.3 547.7,248.7 538.3,245.4 C528.9,242.1 518.6,238.5 510.0,237.0 C501.4,235.5 494.6,236.2 486.8,236.5 C479.0,236.8 470.5,237.4 463.4,238.5 C456.3,239.6 452.0,240.6 444.0,243.0 Z" fill="#f9e2d8"/>
<g clip-path="url(#latclip)"><path d="M444.0,243.0 C436.0,245.4 423.9,249.2 415.5,253.0 C407.1,256.8 400.3,260.9 393.7,266.0 C387.1,271.1 380.6,277.5 376.0,283.7 C371.4,289.9 368.5,296.0 366.0,303.0 C363.5,310.0 361.8,319.2 361.0,325.6 C360.2,332.0 360.1,336.8 361.2,341.2 C362.3,345.6 364.6,349.4 367.5,352.0 C370.4,354.6 374.0,355.2 378.4,356.8 C382.8,358.4 388.8,360.3 394.0,361.5 C399.2,362.7 404.7,363.3 409.6,363.8 C414.5,364.3 421.0,363.2 423.6,364.6 C426.2,366.0 424.1,369.8 425.2,372.4 C426.2,375.0 427.0,377.9 429.9,380.2 C432.8,382.5 438.2,384.6 442.4,386.4 C446.6,388.2 450.6,389.6 455.0,391.0 C459.4,392.4 464.7,393.8 469.0,394.5 C473.3,395.2 477.5,395.9 481.0,395.0 C484.5,394.1 486.4,391.1 490.0,389.0 C493.6,386.9 498.2,384.3 502.5,382.4 C506.8,380.5 509.2,379.1 515.6,377.7 C522.0,376.3 531.3,376.1 541.0,374.0 C550.7,371.9 564.2,366.5 574.0,365.0 C583.8,363.5 594.0,365.4 600.0,365.0 C606.0,364.6 607.7,365.0 610.2,362.4 C612.8,359.8 614.8,354.3 615.3,349.6 C615.8,344.9 614.4,340.2 613.5,334.3 C612.6,328.4 611.8,321.4 610.0,314.3 C608.2,307.2 607.0,298.9 603.0,291.8 C599.0,284.8 592.1,277.9 586.0,272.0 C579.9,266.1 574.4,261.1 566.4,256.7 C558.4,252.3 547.7,248.7 538.3,245.4 C528.9,242.1 518.6,238.5 510.0,237.0 C501.4,235.5 494.6,236.2 486.8,236.5 C479.0,236.8 470.5,237.4 463.4,238.5 C456.3,239.6 452.0,240.6 444.0,243.0 Z" fill="none" stroke="#f1c3b2" stroke-width="8" filter="url(#bl30)" opacity="0.85"/>
<ellipse cx="480" cy="300" rx="70" ry="40" fill="#fcefe9" filter="url(#bl80)"/>
</g>
<path d="M463,263 C466,266 468,270 469,273" stroke="#f1bba9" stroke-width="2.6" stroke-linecap="round" fill="none" opacity="0.9"/>
<path d="M529,257 C524,265 518,271 512,276" stroke="#f1bba9" stroke-width="3.2" stroke-linecap="round" fill="none" opacity="0.9"/>
<path d="M414,294 C419,291 425,289 429,287" stroke="#f1bba9" stroke-width="2.6" stroke-linecap="round" fill="none" opacity="0.9"/>
<path d="M549,324 C555,325 560,328 562,334" stroke="#f1bba9" stroke-width="2.6" stroke-linecap="round" fill="none" opacity="0.9"/>
<path d="M594,315 C598,318 600,324 596,332" stroke="#f1bba9" stroke-width="3.2" stroke-linecap="round" fill="none" opacity="0.9"/>
<path d="M468,370 C476,369 486,369 494,369" stroke="#f1bba9" stroke-width="2.8" stroke-linecap="round" fill="none" opacity="0.9"/>
<path d="M507,372 C515,376 528,377 538,375" stroke="#f1bba9" stroke-width="3.0" stroke-linecap="round" fill="none" opacity="0.9"/>
</g>
<g id="latlines">
<g clip-path="url(#latclip)">
<path d="M376.8,287.0 C379.7,284.9 387.8,278.7 394.0,274.5 C400.2,270.3 408.6,264.9 414.3,262.0 C420.0,259.1 423.6,258.6 428.3,257.3 C433.0,256.0 437.9,254.8 442.4,254.2 C446.8,253.6 452.0,253.2 455.0,253.5 C458.0,253.8 457.1,255.2 460.6,255.8 C464.1,256.4 473.6,257.1 476.2,257.4" fill="none" stroke="#c97a80" stroke-width="0.95" stroke-linecap="round"/>
<path d="M414.3,262.0 C414.0,264.1 413.0,272.4 412.7,274.5" fill="none" stroke="#c97a80" stroke-width="0.95" stroke-linecap="round"/>
<path d="M426.8,248.0 C426.3,249.0 424.1,253.2 423.6,254.2" fill="none" stroke="#c97a80" stroke-width="0.95" stroke-linecap="round"/>
<path d="M401.8,266.7 C401.5,269.0 401.8,277.3 400.2,280.7 C398.6,284.1 393.7,285.9 392.4,287.0" fill="none" stroke="#c97a80" stroke-width="0.95" stroke-linecap="round"/>
<path d="M386.2,294.8 C389.6,293.5 400.0,289.4 406.5,287.0 C413.0,284.6 420.8,282.5 425.2,280.7 C429.6,278.9 430.1,278.2 433.0,276.1 C435.9,274.0 440.8,269.6 442.4,268.3" fill="none" stroke="#c97a80" stroke-width="0.95" stroke-linecap="round"/>
<path d="M433.0,276.1 C433.5,277.7 435.5,283.9 436.0,285.5" fill="none" stroke="#c97a80" stroke-width="0.95" stroke-linecap="round"/>
<path d="M445.5,255.8 C445.8,258.6 445.4,269.5 447.0,272.9 C448.6,276.3 453.7,275.5 455.0,276.0" fill="none" stroke="#c97a80" stroke-width="0.95" stroke-linecap="round"/>
<path d="M386.2,294.8 C385.9,296.4 384.3,300.7 384.6,304.1 C384.9,307.6 387.3,313.6 387.8,315.5" fill="none" stroke="#c97a80" stroke-width="0.95" stroke-linecap="round"/>
<path d="M406.5,299.5 C407.5,300.0 409.8,302.2 412.7,302.5 C415.6,302.8 421.8,301.2 423.6,301.0" fill="none" stroke="#c97a80" stroke-width="0.95" stroke-linecap="round"/>
<path d="M426.8,285.5 C428.6,285.2 434.1,284.4 437.7,283.9 C441.3,283.4 444.8,282.3 448.6,282.3 C452.4,282.3 457.6,282.2 460.6,284.0 C463.6,285.8 465.8,291.8 466.8,293.3" fill="none" stroke="#c97a80" stroke-width="0.95" stroke-linecap="round"/>
<path d="M463.7,285.5 C464.0,287.8 466.1,295.9 465.3,299.5 C464.5,303.1 460.1,305.8 459.0,307.0" fill="none" stroke="#c97a80" stroke-width="0.95" stroke-linecap="round"/>
<path d="M491.8,244.5 C490.5,246.1 486.6,250.2 484.0,253.8 C481.4,257.4 478.3,262.1 476.2,266.3 C474.1,270.5 472.8,274.1 471.5,278.8 C470.2,283.5 469.2,288.9 468.4,294.4 C467.6,299.9 467.2,306.1 466.8,312.0 C466.4,317.9 466.1,327.0 466.0,330.0" fill="none" stroke="#c97a80" stroke-width="0.95" stroke-linecap="round"/>
<path d="M516.8,244.5 C515.2,245.8 510.5,248.9 507.4,252.3 C504.3,255.7 500.6,260.9 498.0,264.8 C495.4,268.7 494.1,272.3 491.8,275.7 C489.5,279.1 485.6,281.4 484.0,285.0 C482.4,288.6 482.7,293.1 482.4,297.6 C482.1,302.1 482.1,307.9 482.4,312.0 C482.7,316.1 483.7,320.3 484.0,322.0" fill="none" stroke="#c97a80" stroke-width="0.95" stroke-linecap="round"/>
<path d="M491.8,277.3 C493.4,277.3 499.6,277.3 501.2,277.3" fill="none" stroke="#c97a80" stroke-width="0.95" stroke-linecap="round"/>
<path d="M532.4,244.5 C531.3,246.3 526.5,251.8 526.0,255.4 C525.5,259.0 531.8,262.7 529.2,266.3 C526.6,269.9 514.1,273.4 510.5,277.3 C506.9,281.2 507.9,285.6 507.4,290.0 C506.9,294.4 507.1,299.8 507.4,304.0 C507.7,308.2 508.7,313.2 509.0,315.0" fill="none" stroke="#c97a80" stroke-width="0.95" stroke-linecap="round"/>
<path d="M535.5,260.6 C537.1,259.3 543.4,254.1 545.0,252.8" fill="none" stroke="#c97a80" stroke-width="0.95" stroke-linecap="round"/>
<path d="M516.8,293.3 C518.1,294.6 522.0,301.1 524.6,301.1 C527.2,301.1 531.1,294.6 532.4,293.3" fill="none" stroke="#c97a80" stroke-width="0.95" stroke-linecap="round"/>
<path d="M524.6,301.1 C524.6,302.8 524.6,309.4 524.6,311.0" fill="none" stroke="#c97a80" stroke-width="0.95" stroke-linecap="round"/>
<path d="M532.4,277.3 C534.5,278.1 542.9,281.2 545.0,282.0" fill="none" stroke="#c97a80" stroke-width="0.95" stroke-linecap="round"/>
<path d="M465.3,240.3 C466.6,240.0 472.1,237.8 473.0,238.7 C473.9,239.6 470.2,244.3 471.0,246.0 C471.8,247.7 476.8,248.5 478.0,249.0" fill="none" stroke="#c97a80" stroke-width="0.95" stroke-linecap="round"/>
<path d="M535.3,252.9 C537.9,252.6 548.6,251.4 551.2,251.1" fill="none" stroke="#c97a80" stroke-width="0.95" stroke-linecap="round"/>
<path d="M547.7,260.0 C549.8,261.8 557.6,268.1 560.0,270.5 C562.4,272.9 563.0,272.3 561.8,274.1 C560.6,275.9 554.5,280.0 553.0,281.2" fill="none" stroke="#c97a80" stroke-width="0.95" stroke-linecap="round"/>
<path d="M560.0,275.9 C562.4,275.9 571.5,274.1 574.2,275.9 C576.9,277.7 575.7,284.7 576.0,286.5" fill="none" stroke="#c97a80" stroke-width="0.95" stroke-linecap="round"/>
<path d="M588.4,281.2 C586.9,283.2 581.9,289.1 579.5,293.5 C577.1,297.9 575.1,303.3 574.2,307.7 C573.3,312.1 575.4,315.7 574.2,320.1 C573.0,324.5 569.2,329.3 567.1,334.3 C565.0,339.3 562.7,347.6 561.8,350.2" fill="none" stroke="#c97a80" stroke-width="0.95" stroke-linecap="round"/>
<path d="M553.0,297.1 C555.1,298.0 562.1,300.3 565.4,302.4 C568.6,304.5 571.3,308.3 572.5,309.5" fill="none" stroke="#c97a80" stroke-width="0.95" stroke-linecap="round"/>
<path d="M530.0,281.2 C531.8,281.5 537.6,280.9 540.6,283.0 C543.6,285.1 546.5,288.8 547.7,293.5 C548.9,298.2 548.9,306.0 547.7,311.3 C546.5,316.6 543.6,322.0 540.6,325.5 C537.6,329.0 531.8,331.3 530.0,332.5" fill="none" stroke="#c97a80" stroke-width="0.95" stroke-linecap="round"/>
<path d="M577.8,314.8 C579.6,315.4 586.3,316.5 588.4,318.3 C590.5,320.1 588.6,326.7 590.1,325.5 C591.6,324.3 596.0,313.7 597.2,311.3" fill="none" stroke="#c97a80" stroke-width="0.95" stroke-linecap="round"/>
<path d="M586.6,304.2 C587.2,304.7 589.4,306.5 590.0,307.0" fill="none" stroke="#c97a80" stroke-width="0.95" stroke-linecap="round"/>
<path d="M547.7,321.9 C550.1,322.5 559.1,323.7 561.8,325.5 C564.4,327.3 563.3,331.3 563.6,332.5" fill="none" stroke="#c97a80" stroke-width="0.95" stroke-linecap="round"/>
<path d="M546.0,339.5 C549.2,339.2 560.4,337.8 565.4,337.8 C570.4,337.8 574.2,339.2 576.0,339.5" fill="none" stroke="#c97a80" stroke-width="0.95" stroke-linecap="round"/>
<path d="M581.3,332.5 C582.5,335.4 585.1,348.4 588.4,350.2 C591.6,352.0 598.2,345.0 600.8,343.1 C603.4,341.2 603.5,339.7 604.0,339.0" fill="none" stroke="#c97a80" stroke-width="0.95" stroke-linecap="round"/>
<path d="M540.6,350.2 C543.0,351.1 552.4,354.6 554.8,355.5" fill="none" stroke="#c97a80" stroke-width="0.95" stroke-linecap="round"/>
<path d="M570.7,353.7 C571.9,353.4 576.8,352.3 578.0,352.0" fill="none" stroke="#c97a80" stroke-width="0.95" stroke-linecap="round"/>
<path d="M556.0,258.0 C558.7,258.7 566.3,259.0 572.0,262.0 C577.7,265.0 587.0,273.7 590.0,276.0" fill="none" stroke="#c97a80" stroke-width="0.95" stroke-linecap="round"/>
<path d="M364.4,330.1 C366.7,329.9 373.5,328.3 378.4,328.6 C383.3,328.9 389.3,331.4 394.0,331.7 C398.7,331.9 404.4,330.4 406.5,330.1" fill="none" stroke="#c97a80" stroke-width="0.95" stroke-linecap="round"/>
<path d="M401.8,302.0 C402.3,304.4 405.0,311.7 405.0,316.1 C405.0,320.5 402.3,326.5 401.8,328.6" fill="none" stroke="#c97a80" stroke-width="0.95" stroke-linecap="round"/>
<path d="M387.8,300.5 C387.5,303.1 388.3,311.9 386.2,316.1 C384.1,320.3 377.1,323.9 375.3,325.5" fill="none" stroke="#c97a80" stroke-width="0.95" stroke-linecap="round"/>
<path d="M372.2,316.1 C373.2,316.6 377.0,318.5 378.0,319.0" fill="none" stroke="#c97a80" stroke-width="0.95" stroke-linecap="round"/>
<path d="M367.5,344.2 C370.6,343.7 380.5,341.4 386.2,341.1 C391.9,340.8 397.6,342.9 401.8,342.6 C406.0,342.3 408.1,339.5 411.2,339.5 C414.3,339.5 416.9,341.3 420.5,342.6 C424.1,343.9 430.9,346.5 433.0,347.3" fill="none" stroke="#c97a80" stroke-width="0.95" stroke-linecap="round"/>
<path d="M417.4,316.1 C419.5,317.4 427.8,322.6 429.9,323.9" fill="none" stroke="#c97a80" stroke-width="0.95" stroke-linecap="round"/>
<path d="M423.6,330.1 C425.2,330.9 431.4,334.0 433.0,334.8" fill="none" stroke="#c97a80" stroke-width="0.95" stroke-linecap="round"/>
<path d="M386.2,352.0 C388.3,352.2 393.0,352.5 398.7,353.5 C404.4,354.5 416.9,357.4 420.5,358.2" fill="none" stroke="#c97a80" stroke-width="0.95" stroke-linecap="round"/>
<path d="M426.8,359.8 C428.9,357.7 434.5,350.2 439.2,347.3 C443.9,344.4 452.4,343.4 455.0,342.6" fill="none" stroke="#c97a80" stroke-width="0.95" stroke-linecap="round"/>
<path d="M439.2,367.6 C440.2,368.1 444.4,370.2 445.5,370.7" fill="none" stroke="#c97a80" stroke-width="0.95" stroke-linecap="round"/>
<path d="M445.0,341.0 C446.6,340.2 450.5,337.9 454.4,336.4 C458.3,334.8 463.5,333.3 468.4,331.7 C473.3,330.1 478.0,328.8 484.0,327.0 C490.0,325.2 497.8,322.6 504.3,320.8 C510.8,319.0 516.2,317.9 523.0,316.1 C529.8,314.3 541.3,310.9 545.0,309.9" fill="none" stroke="#c97a80" stroke-width="0.95" stroke-linecap="round"/>
<path d="M436.0,372.0 C437.5,371.5 440.9,371.7 445.0,369.1 C449.1,366.6 455.4,359.0 460.6,356.7 C465.8,354.4 471.8,354.9 476.2,355.1 C480.6,355.4 483.7,358.7 487.1,358.2 C490.5,357.7 493.1,354.3 496.5,352.0 C499.9,349.7 503.5,345.8 507.4,344.2 C511.3,342.6 515.7,343.9 519.9,342.6 C524.1,341.3 528.2,338.2 532.4,336.4 C536.6,334.6 542.9,332.5 545.0,331.7" fill="none" stroke="#c97a80" stroke-width="0.95" stroke-linecap="round"/>
<path d="M445.0,384.7 C448.4,383.1 458.8,377.7 465.3,375.4 C471.8,373.1 478.0,371.5 484.0,370.7 C490.0,369.9 497.8,371.5 501.2,370.7 C504.6,369.9 501.7,366.8 504.3,366.0 C506.9,365.2 512.1,367.0 516.8,366.0 C521.5,365.0 527.7,361.1 532.4,359.8 C537.1,358.5 542.9,358.5 545.0,358.2" fill="none" stroke="#c97a80" stroke-width="0.95" stroke-linecap="round"/>
<path d="M491.8,300.5 C492.6,303.6 495.7,316.1 496.5,319.2" fill="none" stroke="#c97a80" stroke-width="0.95" stroke-linecap="round"/>
<path d="M523.0,300.5 C523.3,303.1 524.3,313.5 524.6,316.1" fill="none" stroke="#c97a80" stroke-width="0.95" stroke-linecap="round"/>
<path d="M463.7,372.3 C464.0,373.3 465.0,377.5 465.3,378.5" fill="none" stroke="#c97a80" stroke-width="0.95" stroke-linecap="round"/>
<path d="M512.0,356.7 C513.0,356.1 516.2,353.3 518.0,353.0 C519.8,352.7 522.2,354.8 523.0,355.1" fill="none" stroke="#c97a80" stroke-width="0.95" stroke-linecap="round"/>
<path d="M526.1,344.2 C527.7,345.5 534.5,348.9 535.5,352.0 C536.5,355.1 532.9,361.1 532.4,362.9" fill="none" stroke="#c97a80" stroke-width="0.95" stroke-linecap="round"/>
<path d="M545.0,309.9 C547.5,311.2 555.0,314.6 560.0,318.0 C565.0,321.4 570.0,327.2 575.0,330.0 C580.0,332.8 587.5,334.2 590.0,335.0" fill="none" stroke="#c97a80" stroke-width="0.95" stroke-linecap="round"/>
</g>
<path d="M444.0,243.0 C436.0,245.4 423.9,249.2 415.5,253.0 C407.1,256.8 400.3,260.9 393.7,266.0 C387.1,271.1 380.6,277.5 376.0,283.7 C371.4,289.9 368.5,296.0 366.0,303.0 C363.5,310.0 361.8,319.2 361.0,325.6 C360.2,332.0 360.1,336.8 361.2,341.2 C362.3,345.6 364.6,349.4 367.5,352.0 C370.4,354.6 374.0,355.2 378.4,356.8 C382.8,358.4 388.8,360.3 394.0,361.5 C399.2,362.7 404.7,363.3 409.6,363.8 C414.5,364.3 421.0,363.2 423.6,364.6 C426.2,366.0 424.1,369.8 425.2,372.4 C426.2,375.0 427.0,377.9 429.9,380.2 C432.8,382.5 438.2,384.6 442.4,386.4 C446.6,388.2 450.6,389.6 455.0,391.0 C459.4,392.4 464.7,393.8 469.0,394.5 C473.3,395.2 477.5,395.9 481.0,395.0 C484.5,394.1 486.4,391.1 490.0,389.0 C493.6,386.9 498.2,384.3 502.5,382.4 C506.8,380.5 509.2,379.1 515.6,377.7 C522.0,376.3 531.3,376.1 541.0,374.0 C550.7,371.9 564.2,366.5 574.0,365.0 C583.8,363.5 594.0,365.4 600.0,365.0 C606.0,364.6 607.7,365.0 610.2,362.4 C612.8,359.8 614.8,354.3 615.3,349.6 C615.8,344.9 614.4,340.2 613.5,334.3 C612.6,328.4 611.8,321.4 610.0,314.3 C608.2,307.2 607.0,298.9 603.0,291.8 C599.0,284.8 592.1,277.9 586.0,272.0 C579.9,266.1 574.4,261.1 566.4,256.7 C558.4,252.3 547.7,248.7 538.3,245.4 C528.9,242.1 518.6,238.5 510.0,237.0 C501.4,235.5 494.6,236.2 486.8,236.5 C479.0,236.8 470.5,237.4 463.4,238.5 C456.3,239.6 452.0,240.6 444.0,243.0 Z" fill="none" stroke="#dc8f82" stroke-width="0.85"/>
</g>
</defs>
<rect width="641" height="735" fill="#fff"/>
<use href="#medbase" transform="translate(0,-250) translate(0,273) scale(1,0.983) translate(0,-273)"/>
<g transform="translate(0,-250)">
<g  opacity="1.0"><g filter="url(#bl15)"><path d="M124,348 C124,335 140,322 158,315 C168,311 176,314 174,324 C170,334 152,342 138,352 C130,358 124,356 124,348 Z" fill="#c97fae"/></g></g>
<g  opacity="1.0"><g filter="url(#bl15)"><path d="M76,352 C77,344 84,339 92,339 C101,340 104,350 103,360 C102,370 95,375 86,374 C78,372 75,362 76,352 Z" fill="#58aed6"/></g></g>
<g  opacity="1.0"><g filter="url(#bl15)"><path d="M93,375 C97,367 112,366 122,373 C132,380 134,394 124,397 C110,400 94,392 93,383 Z" fill="#58aed6"/></g></g>
<path d="M93,375 C97,367 112,366 122,373 C132,380 134,394 124,397 C110,400 94,392 93,383 Z" fill="url(#stripe)"/>
<g  opacity="1.0"><g filter="url(#bl3)"><path d="M187,389 C196,387 214,384 227,379 C233,376 238,375 239,378 C240,382 237,387 232,390 C222,397 205,403 190,406 C184,407 181,401 182,396 C182,392 184,390 187,389 Z" fill="#58aed6"/></g></g>
<path d="M187,389 C196,387 214,384 227,379 C233,376 238,375 239,378 C240,382 237,387 232,390 C222,397 205,403 190,406 C184,407 181,401 182,396 C182,392 184,390 187,389 Z" fill="url(#stripe)"/>
<g  opacity="1.0"><g filter="url(#bl4)"><path d="M188.5,385.5 L183.5,405.5 C178,406 173.7,401 173.7,395 C174,389 180,385 188.5,385.5 Z" fill="#c68ac2"/></g></g>
<g  opacity="1.0"><g filter="url(#bl25)"><circle cx="235" cy="443" r="8.5" fill="#c07ab8"/></g></g>
</g>
<use href="#medlines" transform="translate(0,-250) translate(0,273) scale(1,0.983) translate(0,-273)" style="mix-blend-mode:multiply"/>
<path d="M110,132 C125,121 150,118 163.6,121.6 C180,124 198,132 206.6,143" fill="none" stroke="#151515" stroke-width="0.9" marker-start="url(#ah)" marker-end="url(#ah)"/>
<path d="M184,147 C200,146 215,152 222.5,162.6 C230,172 236,180 237,190" fill="none" stroke="#151515" stroke-width="0.9" marker-start="url(#ah)" marker-end="url(#ah)"/>
<circle cx="163.6" cy="121.6" r="3.9" fill="#3ca82e" stroke="#1b1b1b" stroke-width="1.1"/><path d="M161.0,121.6 H166.2 M163.6,119.0 V124.19999999999999" stroke="#fff" stroke-width="1.5"/>
<circle cx="222.5" cy="162.6" r="3.9" fill="#de1a24" stroke="#1b1b1b" stroke-width="1.1"/><path d="M219.8,162.6 H225.2" stroke="#fff" stroke-width="1.7"/>
<text transform="translate(34.2,20.10) scale(0.957,1)" font-size="11.9" font-weight="bold" text-anchor="start" fill="#151515">Pre-trauma</text>
<text transform="translate(74.2,90.73) scale(0.965,1)" font-size="9.15" font-weight="normal" text-anchor="end" fill="#1c1c2a" stroke="#1c1c2a" stroke-width="0.12">dACC</text>
<path d="M75.0,87.5 L134.7,87.5" fill="none" stroke="#151515" stroke-width="1.0"/>
<text transform="translate(63.7,111.83) scale(0.965,1)" font-size="9.15" font-weight="normal" text-anchor="end" fill="#1c1c2a" stroke="#1c1c2a" stroke-width="0.12">Frontal pole</text>
<path d="M64.5,108.5 L82.2,108.5" fill="none" stroke="#151515" stroke-width="1.0"/>
<text transform="translate(66.4,137.13) scale(0.965,1)" font-size="9.15" font-weight="normal" text-anchor="end" fill="#1c1c2a" stroke="#1c1c2a" stroke-width="0.12">vmPFC</text>
<path d="M67.2,133.5 L108.8,133.5" fill="none" stroke="#151515" stroke-width="1.0"/>
<text transform="translate(135.8,204.53) scale(0.965,1)" font-size="9.15" font-weight="normal" text-anchor="end" fill="#1c1c2a" stroke="#1c1c2a" stroke-width="0.12">Amygdala</text>
<path d="M137.3,201.5 L149.8,201.5" fill="none" stroke="#8a8a8a" stroke-width="1.0"/>
<path d="M149.8,201.5 L182.2,144.8" fill="none" stroke="#151515" stroke-width="1.0"/>
<text transform="translate(154.8,219.33) scale(0.965,1)" font-size="9.15" font-weight="normal" text-anchor="end" fill="#1c1c2a" stroke="#1c1c2a" stroke-width="0.12">Hippocampus</text>
<path d="M157.0,216.5 L164.7,216.5 L208.7,139.8" fill="none" stroke="#151515" stroke-width="1.0"/>
<text transform="translate(256.6,198.03) scale(0.965,1)" font-size="9.15" font-weight="normal" text-anchor="start" fill="#1c1c2a" stroke="#1c1c2a" stroke-width="0.12">Locus Coeruleus</text>
<path d="M237.0,194.5 L255.0,194.5" fill="none" stroke="#151515" stroke-width="1.0"/>
<rect x="368.3" y="27.2" width="119.5" height="45.2" fill="#fff" stroke="#151515" stroke-width="1"/>
<text transform="translate(428.7,40.30) scale(0.98,1)" font-size="9.0" font-weight="normal" text-anchor="middle" fill="#1c1c2a" stroke="#1c1c2a" stroke-width="0.12">Association between</text>
<text transform="translate(428.6,49.10) scale(0.98,1)" font-size="9.0" font-weight="normal" text-anchor="middle" fill="#1c1c2a" stroke="#1c1c2a" stroke-width="0.12">connectivity and resilience</text>
<circle cx="382.5" cy="61.5" r="3.9" fill="#3ca82e" stroke="#1b1b1b" stroke-width="1.1"/><path d="M379.9,61.5 H385.1 M382.5,58.9 V64.1" stroke="#fff" stroke-width="1.5"/>
<text transform="translate(390.6,64.80) scale(0.98,1)" font-size="9.0" font-weight="normal" text-anchor="start" fill="#1c1c2a" stroke="#1c1c2a" stroke-width="0.12">Positive</text>
<circle cx="434.3" cy="61.5" r="3.9" fill="#de1a24" stroke="#1b1b1b" stroke-width="1.1"/><path d="M431.6,61.5 H437.0" stroke="#fff" stroke-width="1.7"/>
<text transform="translate(441.9,64.80) scale(0.98,1)" font-size="9.0" font-weight="normal" text-anchor="start" fill="#1c1c2a" stroke="#1c1c2a" stroke-width="0.12">Negative</text>
<rect x="369.5" y="85" width="14.5" height="14.5" fill="#c98bc0"/>
<circle cx="372.0" cy="88" r="0.45" fill="#a05a90"/>
<circle cx="376.0" cy="88" r="0.45" fill="#a05a90"/>
<circle cx="380.0" cy="88" r="0.45" fill="#a05a90"/>
<circle cx="374.0" cy="91.5" r="0.45" fill="#a05a90"/>
<circle cx="378.0" cy="91.5" r="0.45" fill="#a05a90"/>
<circle cx="381.5" cy="91.5" r="0.45" fill="#a05a90"/>
<circle cx="372.0" cy="95" r="0.45" fill="#a05a90"/>
<circle cx="376.0" cy="95.5" r="0.45" fill="#a05a90"/>
<circle cx="380.0" cy="95.5" r="0.45" fill="#a05a90"/>
<circle cx="374.0" cy="98" r="0.45" fill="#a05a90"/>
<text transform="translate(388.7,95.10) scale(0.96,1)" font-size="7.9" font-weight="normal" text-anchor="start" fill="#1c1c2a" stroke="#1c1c2a" stroke-width="0.12">&#8211; Reactivity</text>
<rect x="369.5" y="103" width="14.5" height="14.5" fill="#5bbfe6"/>
<text transform="translate(388.7,113.10) scale(0.96,1)" font-size="7.9" font-weight="normal" text-anchor="start" fill="#1c1c2a" stroke="#1c1c2a" stroke-width="0.12">+ Reactivity</text>
<rect x="369.5" y="121.2" width="14.5" height="14.5" fill="#5bbfe6"/>
<path d="M372.5,135.7 L376.3,121.2 M380,135.7 L383.8,121.2" stroke="#fff" stroke-width="1.1" opacity="0.9"/>
<text transform="translate(388.7,131.30) scale(0.96,1)" font-size="7.9" font-weight="normal" text-anchor="start" fill="#1c1c2a" stroke="#1c1c2a" stroke-width="0.12">+ Volume/Thickness/Reactivity</text>
<rect x="369.5" y="138.7" width="14.5" height="14.5" fill="#ef9a8a"/>
<text transform="translate(388.7,148.80) scale(0.96,1)" font-size="7.9" font-weight="normal" text-anchor="start" fill="#1c1c2a" stroke="#1c1c2a" stroke-width="0.12">+ Volume/Thickness/Surface area</text>
<rect x="369.5" y="157" width="14.5" height="14.5" fill="#ef9a8a"/>
<path d="M372.5,171.5 L376.3,157 M380,171.5 L383.8,157" stroke="#fff" stroke-width="1.1" opacity="0.9"/>
<text transform="translate(388.7,167.10) scale(0.96,1)" font-size="7.9" font-weight="normal" text-anchor="start" fill="#1c1c2a" stroke="#1c1c2a" stroke-width="0.12">+ Volume/Thickness/FA</text>
<rect x="369.5" y="174.4" width="14.5" height="14.5" fill="#e8769a"/>
<text transform="translate(388.7,184.50) scale(0.96,1)" font-size="7.9" font-weight="normal" text-anchor="start" fill="#1c1c2a" stroke="#1c1c2a" stroke-width="0.12">+ FA</text>
<use href="#medbase"/>
<use href="#latbase"/>
<g  opacity="1.0"><g filter="url(#bl12)"><path d="M96,330 C95.5,320 108,304 126,293.5 C144,283.5 170,276 188,274.8 C196,274.8 199,281 198,289 C196,297 187,302 178,305 C165,308 152,311 140,318 C128,325 118,332 108,336.5 C101,339.5 96.5,336 96,330 Z" fill="#c97dac"/></g></g>
<g  opacity="1.0"><g filter="url(#bl18)"><ellipse cx="126" cy="360.5" rx="9.5" ry="12.5" fill="#ee8c80"/></g></g>
<g  opacity="1.0"><g filter="url(#bl18)"><path d="M100,380 C103,370 115,366 126,370 C136,376 138,394 130,399 C118,403 100,396 100,380 Z" fill="#ee8c80"/></g></g>
<path d="M100,380 C103,370 115,366 126,370 C136,376 138,394 130,399 C118,403 100,396 100,380 Z" fill="url(#stripe)"/>
<g  opacity="1.0"><g filter="url(#bl22)"><path d="M136,412 C142,406 160,414 172,424 C182,432 188,442 184,448 C176,452 160,446 150,440 C140,432 132,420 136,412 Z" fill="#ee8a7e"/></g></g>
<g  opacity="1.0"><g filter="url(#bl5)"><path d="M248.4,320.9 C250.9,321.1 254.0,322.0 256.0,323.5 C258.0,325.0 259.5,327.2 260.4,329.7 C261.3,332.2 260.8,336.2 261.5,338.4 C262.2,340.6 263.2,340.7 264.5,342.8 C265.8,344.9 267.6,348.1 269.1,351.0 C270.6,353.9 273.1,356.8 273.5,360.0 C273.9,363.2 273.1,367.4 271.5,370.0 C269.9,372.6 266.3,374.4 263.7,375.5 C261.1,376.6 258.0,377.2 256.0,376.6 C254.0,376.1 252.8,374.6 251.7,372.2 C250.6,369.8 251.2,365.3 249.5,362.4 C247.8,359.4 244.6,357.1 241.8,354.5 C239.1,351.9 234.9,349.5 233.0,347.0 C231.1,344.5 230.2,342.7 230.5,339.5 C230.8,336.3 233.2,330.8 235.0,328.0 C236.8,325.2 238.8,323.7 241.0,322.5 C243.2,321.3 245.9,320.7 248.4,320.9 Z" fill="#d6c3bd"/></g></g>
<g  opacity="1.0"><g filter="url(#bl3)"><path d="M187,389 C196,387 214,384 227,379 C233,376 238,375 239,378 C240,382 237,387 232,390 C222,397 205,403 190,406 C184,407 181,401 182,396 C182,392 184,390 187,389 Z" fill="#58aed6"/></g></g>
<path d="M187,389 C196,387 214,384 227,379 C233,376 238,375 239,378 C240,382 237,387 232,390 C222,397 205,403 190,406 C184,407 181,401 182,396 C182,392 184,390 187,389 Z" fill="url(#stripe)"/>
<g  opacity="1.0"><g filter="url(#bl4)"><path d="M189.4,386.5 L184.7,406.5 C180,407 176.5,402 176.5,396 C177,390 182,386 189.4,386.5 Z" fill="#c68ac2"/></g></g>
<g  opacity="1.0"><g filter="url(#bl22)"><path d="M370.0,310.0 C370.0,306.0 372.8,298.0 377.9,292.0 C383.0,286.0 393.2,279.7 400.8,274.0 C408.4,268.3 416.8,261.2 423.6,258.0 C430.5,254.8 437.1,253.8 441.9,254.5 C446.7,255.2 450.3,258.1 452.5,262.0 C454.7,265.9 454.2,272.9 455.0,277.8 C455.8,282.7 457.8,287.1 457.0,291.5 C456.2,295.9 454.9,300.8 450.5,304.5 C446.1,308.2 438.0,311.2 430.5,313.5 C423.0,315.8 414.1,317.6 405.3,318.0 C396.6,318.4 383.9,317.3 378.0,316.0 C372.1,314.7 370.0,314.0 370.0,310.0 Z" fill="#eb8275"/></g></g>
<g  opacity="1.0"><g filter="url(#bl22)"><ellipse cx="461" cy="330.5" rx="25" ry="16.5" fill="#eb8275"/></g></g>
<g  opacity="1.0"><g filter="url(#bl20)"><path d="M458,366 C462,356 485,348 515.6,334.3 C530,326 548,320 561.6,321.5 C570,326 570,342 566.7,349.6 C560,360 545,366 528.4,367.5 C505,372 485,378 468,378 C460,377 456,372 458,366 Z" fill="#eb8275"/></g></g>
<g clip-path="url(#mtgclip)"><rect x="440" y="300" width="150" height="100" fill="url(#stripe2)"/></g>
<use href="#medlines" style="mix-blend-mode:multiply"/>
<use href="#latlines" style="mix-blend-mode:multiply"/>
<defs><clipPath id="mtgclip"><path d="M458,366 C462,356 485,348 515.6,334.3 C530,326 548,320 561.6,321.5 C570,326 570,342 566.7,349.6 C560,360 545,366 528.4,367.5 C505,372 485,378 468,378 C460,377 456,372 458,366 Z"/></clipPath><pattern id="stripe2" width="7" height="7" patternUnits="userSpaceOnUse" patternTransform="rotate(18)"><rect x="0" width="0.9" height="7" fill="#fff" opacity="0.85"/></pattern></defs>
<path d="M411,286.3 C380,282 330,280 301.6,284.6 C250,292 200,330 181,392" fill="none" stroke="#151515" stroke-width="0.9" marker-end="url(#ah)"/>
<path d="M183,394 C188,382 196,372 205.7,365.6 C220,355 236,347 249,345" fill="none" stroke="#151515" stroke-width="0.9" marker-start="url(#ah)" marker-end="url(#ah)"/>
<path d="M256,346 C268,358 277,378 276.7,394 C276,415 260,436 238,444" fill="none" stroke="#151515" stroke-width="0.9" marker-start="url(#ah)" marker-end="url(#ah)"/>
<circle cx="301.6" cy="284.6" r="3.9" fill="#3ca82e" stroke="#1b1b1b" stroke-width="1.1"/><path d="M299.0,284.6 H304.20000000000005 M301.6,282.0 V287.20000000000005" stroke="#fff" stroke-width="1.5"/>
<circle cx="205.7" cy="365.6" r="3.9" fill="#de1a24" stroke="#1b1b1b" stroke-width="1.1"/><path d="M203.0,365.6 H208.39999999999998" stroke="#fff" stroke-width="1.7"/>
<circle cx="276.7" cy="394" r="3.9" fill="#de1a24" stroke="#1b1b1b" stroke-width="1.1"/><path d="M274.0,394 H279.4" stroke="#fff" stroke-width="1.7"/>
<text transform="translate(34.5,269.50) scale(0.957,1)" font-size="11.9" font-weight="bold" text-anchor="start" fill="#151515">Peri-trauma</text>
<text transform="translate(99.7,305.33) scale(0.965,1)" font-size="9.15" font-weight="normal" text-anchor="end" fill="#1c1c2a" stroke="#1c1c2a" stroke-width="0.12">dmPFC</text>
<path d="M100.5,302.5 L145.9,302.5" fill="none" stroke="#151515" stroke-width="1.0"/>
<text transform="translate(67.9,365.83) scale(0.965,1)" font-size="9.15" font-weight="normal" text-anchor="end" fill="#1c1c2a" stroke="#1c1c2a" stroke-width="0.12">rACC</text>
<path d="M68.7,362.5 L125.5,362.5" fill="none" stroke="#151515" stroke-width="1.0"/>
<text transform="translate(69,389.73) scale(0.965,1)" font-size="9.15" font-weight="normal" text-anchor="end" fill="#1c1c2a" stroke="#1c1c2a" stroke-width="0.12">vmPFC/sgACC</text>
<path d="M69.8,386.5 L115.6,386.5" fill="none" stroke="#151515" stroke-width="1.0"/>
<text transform="translate(126.3,431.63) scale(0.965,1)" font-size="9.15" font-weight="normal" text-anchor="end" fill="#1c1c2a" stroke="#1c1c2a" stroke-width="0.12">Temporal pole</text>
<path d="M127.1,428.5 L151.2,428.5" fill="none" stroke="#151515" stroke-width="1.0"/>
<text transform="translate(136.9,452.83) scale(0.965,1)" font-size="9.15" font-weight="normal" text-anchor="end" fill="#1c1c2a" stroke="#1c1c2a" stroke-width="0.12">Amygdala</text>
<path d="M138.6,449.5 L149.7,449.5" fill="none" stroke="#8a8a8a" stroke-width="1.0"/>
<path d="M149.7,449.5 L181.5,395.4" fill="none" stroke="#151515" stroke-width="1.0"/>
<text transform="translate(153.8,467.73) scale(0.965,1)" font-size="9.15" font-weight="normal" text-anchor="end" fill="#1c1c2a" stroke="#1c1c2a" stroke-width="0.12">Hippocampus/</text>
<text transform="translate(153.8,476.73) scale(0.965,1)" font-size="9.15" font-weight="normal" text-anchor="end" fill="#1c1c2a" stroke="#1c1c2a" stroke-width="0.12">parahippocampus</text>
<path d="M156.0,464.5 L170.3,464.5 L208.0,393.7" fill="none" stroke="#151515" stroke-width="1.0"/>
<text transform="translate(235.8,467.73) scale(0.965,1)" font-size="9.15" font-weight="normal" text-anchor="middle" fill="#1c1c2a" stroke="#1c1c2a" stroke-width="0.12">PAG</text>
<path d="M235.5,445.3 L235.5,458.4" fill="none" stroke="#151515" stroke-width="1.0"/>
<text transform="translate(317.4,321.83) scale(0.965,1)" font-size="9.15" font-weight="normal" text-anchor="start" fill="#1c1c2a" stroke="#1c1c2a" stroke-width="0.12">PCC</text>
<path d="M315.5,318.5 L303.7,318.5 L252.5,343.7" fill="none" stroke="#151515" stroke-width="1.0"/>
<text transform="translate(380.6,267.83) scale(0.965,1)" font-size="9.15" font-weight="normal" text-anchor="end" fill="#1c1c2a" stroke="#1c1c2a" stroke-width="0.12">dlPFC</text>
<path d="M382.8,264.5 L392.6,264.5 L414.4,287.0" fill="none" stroke="#151515" stroke-width="1.0"/>
<text transform="translate(524.4,429.33) scale(0.965,1)" font-size="9.15" font-weight="normal" text-anchor="start" fill="#1c1c2a" stroke="#1c1c2a" stroke-width="0.12">Middle temporal gyrus</text>
<path d="M522.4,426.5 L511.0,426.5 L497.5,355.0" fill="none" stroke="#151515" stroke-width="1.0"/>
<text transform="translate(510,439.93) scale(0.965,1)" font-size="9.15" font-weight="normal" text-anchor="start" fill="#1c1c2a" stroke="#1c1c2a" stroke-width="0.12">Insula</text>
<path d="M507.0,436.5 L495.5,436.5 L456.2,325.6" fill="none" stroke="#151515" stroke-width="1.0"/>
<use href="#medbase" transform="translate(0,254)"/>
<use href="#latbase" transform="translate(0,259.5)"/>
<g transform="translate(0,252)">
<g  opacity="1.0"><g filter="url(#bl12)"><path d="M96,333 C95.5,322 108,305 126,294 C144,284 170,276.5 190,275.5 C198,276.5 200,285 198,294 C195,302 184,308 170,314 C156,318 142,323 128,330 C120,335 112,339 106,341 C100,342 96.5,338 96,333 Z" fill="#c97dac"/></g></g>
<g  opacity="1.0"><g filter="url(#bl15)"><path d="M127,346 C129,333 146,321 166,316 C177,314 179,324 173,330 C161,338 149,346 139,353 C131,358 126,354 127,346 Z" fill="#c97dac"/></g></g>
<g  opacity="1.0"><g filter="url(#bl4)"><path d="M160.0,358.3 C160.5,355.1 163.9,353.6 168.7,352.8 C173.5,352.0 183.0,352.2 189.0,353.6 C195.0,355.0 201.2,358.8 204.6,361.4 C208.0,364.0 209.0,366.1 209.3,369.2 C209.6,372.3 208.8,377.5 206.2,380.1 C203.6,382.7 198.1,385.1 193.7,384.8 C189.3,384.6 184.3,380.7 179.6,378.6 C174.9,376.5 168.9,375.7 165.6,372.3 C162.3,368.9 159.5,361.6 160.0,358.3 Z" fill="#e45d8b"/></g></g>
<g clip-path="url(#thalclip)"><ellipse cx="199" cy="372" rx="15" ry="16" fill="#ee87a6" opacity="0.55" filter="url(#bl20)"/></g>
<defs><clipPath id="thalclip"><path d="M160.0,358.3 C160.5,355.1 163.9,353.6 168.7,352.8 C173.5,352.0 183.0,352.2 189.0,353.6 C195.0,355.0 201.2,358.8 204.6,361.4 C208.0,364.0 209.0,366.1 209.3,369.2 C209.6,372.3 208.8,377.5 206.2,380.1 C203.6,382.7 198.1,385.1 193.7,384.8 C189.3,384.6 184.3,380.7 179.6,378.6 C174.9,376.5 168.9,375.7 165.6,372.3 C162.3,368.9 159.5,361.6 160.0,358.3 Z"/></clipPath></defs>
<g  opacity="1.0"><g filter="url(#bl13)"><path d="M230,337 C228,326 238,322 248,324 C258,326 258,336 256,342 C262,350 272,362 272,372 C270,380 262,380 256,374 C250,366 246,358 240,352 C234,348 231,343 230,337 Z" fill="#c97dac"/></g></g>
<g clip-path="url(#medclip)"><g  opacity="1.0"><g filter="url(#bl18)"><path d="M91,388 C96,383 110,388 130,392 C145,395 160,396 164,400 C167,406 160,410 145,412 C128,414 110,412 100,406 C92,400 88,393 91,388 Z" fill="#ee8c80"/></g></g></g>
<g  opacity="1.0"><g filter="url(#bl10)"><path d="M99,380 C100,372 106,368 112,369 C118,370 124,378 130,386 C135,392 136,398 132,400 C124,401 110,400 102,397 C98,393 98,386 99,380 Z" fill="#58aed6"/></g></g>
<g clip-path="url(#vm3clip)"><path d="M95,385 C108,390 122,392 136,392 L136,406 L95,406 Z" fill="#858b92"/></g>
<defs><clipPath id="vm3clip"><path d="M99,380 C100,372 106,368 112,369 C118,370 124,378 130,386 C135,392 136,398 132,400 C124,401 110,400 102,397 C98,393 98,386 99,380 Z"/></clipPath></defs>
<path d="M99,380 C100,372 106,368 112,369 C118,370 124,378 130,386 C135,392 136,398 132,400 C124,401 110,400 102,397 C98,393 98,386 99,380 Z" fill="url(#stripe)"/>
<path d="M187,390 C200,388 214,385.5 223,383 C228,381 231,378.5 235,378.5 C238.5,378.5 239,382 238,385 C236.5,389 233,391.5 229,393 C222,396 216,398 210,400 C202,403 195,406 187,408 Z" fill="#5ab2d8"/>
<g  opacity="1.0"><g filter="url(#bl5)"><path d="M182,389.5 L189,388.5 C189.5,395 189,402 187,407.5 C185,409 180,406 177.5,403 C176,399 178,392 182,389.5 Z" fill="#c68ac2"/></g></g>
</g>
<g  opacity="1.0"><g filter="url(#bl20)"><ellipse cx="458.5" cy="581" rx="25" ry="17" fill="#bb6ca5"/></g></g>
<use href="#medlines" transform="translate(0,254)" style="mix-blend-mode:multiply"/>
<use href="#latlines" transform="translate(0,259.5)" style="mix-blend-mode:multiply"/>
<path d="M453.7,577.4 C420,555 370,546 325.2,545 C270,548 200,580 181,646" fill="none" stroke="#151515" stroke-width="0.9" marker-end="url(#ah)"/>
<path d="M172.6,628 C172.8,624 173.2,620 173.4,617.3" fill="none" stroke="#151515" stroke-width="0.9" marker-end="url(#ah)"/>
<path d="M172.6,636 C174,640 177,644 179.6,647" fill="none" stroke="#151515" stroke-width="0.9" marker-end="url(#ah)"/>
<path d="M118,636 C125,645 135,652 143,653.8 C155,655 170,652 180,652" fill="none" stroke="#151515" stroke-width="0.9" marker-start="url(#ah)" marker-end="url(#ah)"/>
<path d="M256,600 C268,612 277,630 276.8,646.3 C276,668 260,688 238,696" fill="none" stroke="#151515" stroke-width="0.9" marker-start="url(#ah)" marker-end="url(#ah)"/>
<circle cx="172.7" cy="632" r="3.9" fill="#3ca82e" stroke="#1b1b1b" stroke-width="1.1"/><path d="M170.1,632 H175.29999999999998 M172.7,629.4 V634.6" stroke="#fff" stroke-width="1.5"/>
<circle cx="143" cy="653.8" r="3.9" fill="#3ca82e" stroke="#1b1b1b" stroke-width="1.1"/><path d="M140.4,653.8 H145.6 M143,651.1999999999999 V656.4" stroke="#fff" stroke-width="1.5"/>
<circle cx="325.2" cy="545" r="3.9" fill="#de1a24" stroke="#1b1b1b" stroke-width="1.1"/><path d="M322.5,545 H327.9" stroke="#fff" stroke-width="1.7"/>
<circle cx="276.8" cy="646.3" r="3.9" fill="#de1a24" stroke="#1b1b1b" stroke-width="1.1"/><path d="M274.1,646.3 H279.5" stroke="#fff" stroke-width="1.7"/>
<text transform="translate(34.5,524.30) scale(0.957,1)" font-size="11.9" font-weight="bold" text-anchor="start" fill="#151515">Recovery</text>
<text transform="translate(86.5,573.93) scale(0.965,1)" font-size="9.15" font-weight="normal" text-anchor="end" fill="#1c1c2a" stroke="#1c1c2a" stroke-width="0.12">dmPFC/dACC</text>
<path d="M87.3,570.5 L164.5,570.5" fill="none" stroke="#151515" stroke-width="1.0"/>
<text transform="translate(67.9,616.93) scale(0.965,1)" font-size="9.15" font-weight="normal" text-anchor="end" fill="#1c1c2a" stroke="#1c1c2a" stroke-width="0.12">Thalamus</text>
<path d="M68.7,613.5 L175.0,613.5" fill="none" stroke="#151515" stroke-width="1.0"/>
<text transform="translate(69,637.63) scale(0.965,1)" font-size="9.15" font-weight="normal" text-anchor="end" fill="#1c1c2a" stroke="#1c1c2a" stroke-width="0.12">vmPFC</text>
<path d="M69.8,634.5 L111.0,634.5" fill="none" stroke="#151515" stroke-width="1.0"/>
<text transform="translate(84.9,657.83) scale(0.965,1)" font-size="9.15" font-weight="normal" text-anchor="end" fill="#1c1c2a" stroke="#1c1c2a" stroke-width="0.12">OFC</text>
<path d="M85.7,654.5 L111.4,654.5" fill="none" stroke="#151515" stroke-width="1.0"/>
<text transform="translate(136.9,708.23) scale(0.965,1)" font-size="9.15" font-weight="normal" text-anchor="end" fill="#1c1c2a" stroke="#1c1c2a" stroke-width="0.12">Amygdala</text>
<path d="M138.7,704.5 L149.8,704.5 L179.2,652.2" fill="none" stroke="#151515" stroke-width="1.0"/>
<text transform="translate(146.4,722.53) scale(0.965,1)" font-size="9.15" font-weight="normal" text-anchor="end" fill="#1c1c2a" stroke="#1c1c2a" stroke-width="0.12">Hippocampus</text>
<path d="M148.8,718.5 L159.0,718.5" fill="none" stroke="#8a8a8a" stroke-width="1.0"/>
<path d="M159.0,718.7 L207.6,649.0" fill="none" stroke="#151515" stroke-width="1.0"/>
<text transform="translate(236,721.33) scale(0.965,1)" font-size="9.15" font-weight="normal" text-anchor="middle" fill="#1c1c2a" stroke="#1c1c2a" stroke-width="0.12">PAG</text>
<path d="M236.5,697.0 L236.5,712.0" fill="none" stroke="#151515" stroke-width="1.0"/>
<text transform="translate(317.2,576.63) scale(0.965,1)" font-size="9.15" font-weight="normal" text-anchor="start" fill="#1c1c2a" stroke="#1c1c2a" stroke-width="0.12">PCC</text>
<path d="M316.0,572.5 L303.7,572.5 L253.6,598.8" fill="none" stroke="#151515" stroke-width="1.0"/>
<text transform="translate(507.8,695.63) scale(0.965,1)" font-size="9.15" font-weight="normal" text-anchor="start" fill="#1c1c2a" stroke="#1c1c2a" stroke-width="0.12">Insula</text>
<path d="M504.8,692.5 L496.0,692.5 L457.4,580.0" fill="none" stroke="#151515" stroke-width="1.0"/>
</svg></body></html>
